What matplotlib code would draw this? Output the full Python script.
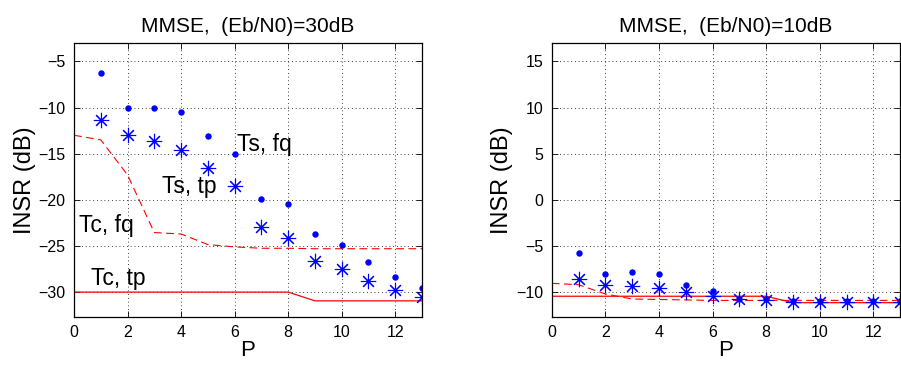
import matplotlib
matplotlib.use("Agg")
import matplotlib.pyplot as plt
import numpy as np

plt.rcParams['font.family'] = ['Liberation Sans', 'DejaVu Sans']

P = list(range(1, 14))
x_line = list(range(0, 14))

# Left panel: (Eb/N0)=30dB
ts_fq_30 = [-6.3, -10.0, -10.0, -10.45, -13.05, -15.0, -19.9, -20.5, -23.75, -24.9, -26.7, -28.4, -29.6]
ts_tp_30 = [-11.4, -12.95, -13.6, -14.6, -16.5, -18.5, -22.9, -24.1, -26.6, -27.5, -28.8, -29.8, -30.5]
tc_fq_30 = [-13.0, -13.5, -17.3, -23.55, -23.7, -24.85, -25.1, -25.25, -25.25, -25.3, -25.3, -25.3, -25.3, -25.3]
tc_tp_30 = [-30.0, -30.0, -30.0, -30.0, -30.0, -30.0, -30.0, -30.0, -30.0, -30.95, -30.95, -30.95, -30.95, -30.95]

# Right panel: (Eb/N0)=10dB
ts_fq_10 = [-5.75, -8.05, -7.85, -8.05, -9.2, -9.85, -10.7, -10.75, -11.0, -11.0, -11.0, -11.0, -11.0]
ts_tp_10 = [-8.55, -9.2, -9.35, -9.55, -10.0, -10.45, -10.8, -10.85, -11.05, -11.05, -11.05, -11.05, -11.05]
tc_fq_10 = [-9.05, -9.2, -10.2, -10.75, -10.8, -10.85, -10.9, -10.9, -10.9, -10.9, -10.9, -10.9, -10.9, -10.9]
tc_tp_10 = [-10.45, -10.45, -10.45, -10.45, -10.45, -10.45, -10.45, -10.45, -10.45, -11.15, -11.15, -11.15, -11.15, -11.15]

titles = ['MMSE,  (Eb/N0)=30dB', 'MMSE,  (Eb/N0)=10dB']
xticks = [0, 2, 4, 6, 8, 10, 12]
yticks_30 = [-30, -25, -20, -15, -10, -5]
yticks_10 = [-10, -5, 0, 5, 10, 15]

fig = plt.figure(figsize=(9.01, 3.65), dpi=100)
ax1 = fig.add_axes([74/901, 48/365, 348/901, 274/365])
ax2 = fig.add_axes([551.7/901, 48/365, 348.5/901, 274/365])

star = (8, 2, 0)

def style(ax, title, yticks, ylim):
    ax.set_xlim(0, 13)
    ax.set_ylim(*ylim)
    ax.set_xticks(xticks)
    ax.set_yticks(yticks)
    ax.set_yticklabels([str(v).replace('-', '\u2212') for v in yticks])
    ax.tick_params(direction='in', top=True, right=True, length=4, width=0.6,
                   labelsize=11.5, pad=6)
    ax.grid(True, color='black', linestyle=(0, (1, 3.5)), linewidth=0.6)
    for s in ax.spines.values():
        s.set_linewidth(0.9)
    ax.set_title(title, fontsize=15, pad=8)
    ax.set_xlabel('P', fontsize=16, labelpad=0)
    ax.set_ylabel('INSR (dB)', fontsize=17, labelpad=2)

def draw(ax, fq, tp, cfq, ctp):
    ax.plot(x_line, cfq, color='red', linestyle=(0, (7, 4)), linewidth=0.8)
    ax.plot(x_line, ctp, color='red', linestyle='-', linewidth=0.9)
    ax.plot(P, fq, linestyle='none', marker='o', color='blue', markersize=3.6)
    ax.plot(P, tp, linestyle='none', marker=star, color='blue', markersize=11,
            markeredgewidth=0.8)

draw(ax1, ts_fq_30, ts_tp_30, tc_fq_30, tc_tp_30)
draw(ax2, ts_fq_10, ts_tp_10, tc_fq_10, tc_tp_10)
style(ax1, titles[0], yticks_30, (-32.7, -3))
style(ax2, titles[1], yticks_10, (-12.7, 17))

ax1.text(6.1, -14.0, 'Ts, fq', fontsize=16.5, va='center', ha='left')
ax1.text(3.3, -18.6, 'Ts, tp', fontsize=16.5, va='center', ha='left')
ax1.text(0.2, -22.8, 'Tc, fq', fontsize=16.5, va='center', ha='left')
ax1.text(0.62, -28.5, 'Tc, tp', fontsize=16.5, va='center', ha='left')

fig.savefig('out.png', dpi=100)
